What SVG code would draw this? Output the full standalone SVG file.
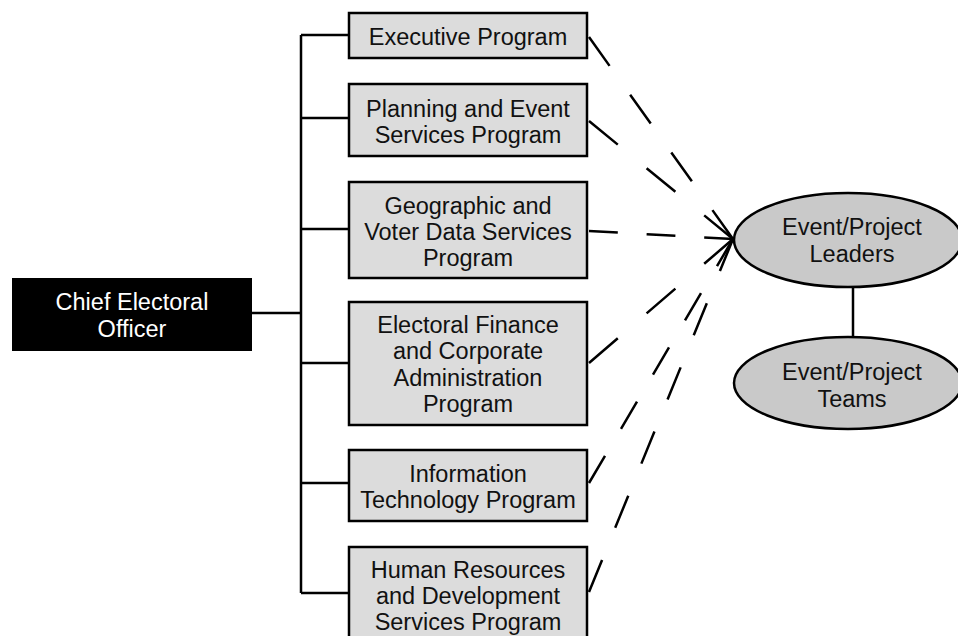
<svg xmlns="http://www.w3.org/2000/svg" width="958" height="636" viewBox="0 0 958 636">
<style>
.box{fill:#dcdcdc;stroke:#000;stroke-width:2.5}
.ell{fill:#c9c9c9;stroke:#000;stroke-width:2.5}
.t{font-family:"Liberation Sans",Arial,sans-serif;font-size:23.5px;fill:#111;text-anchor:middle}
.w{fill:#fff}
.ln{stroke:#000;stroke-width:2.5;fill:none}
.dash{stroke:#000;stroke-width:2.5;fill:none;stroke-dasharray:1 1}
</style>
<rect width="958" height="636" fill="#fff"/>
<g id="connectors">
<path class="ln" d="M252 313H301M301 35V593M301 35H349M301 118H349M301 229H349M301 363H349M301 483H349M301 593H349"/>
<path class="ln" d="M853 287V337"/>
<path class="dash" pathLength="7" d="M733 239L589 37"/>
<path class="dash" pathLength="5" d="M733 239L589 121"/>
<path class="dash" pathLength="5" d="M733 239L589 231"/>
<path class="dash" pathLength="5" d="M733 239L589 363"/>
<path class="dash" pathLength="9" d="M733 239L589 483"/>
<path class="dash" pathLength="11" d="M733 239L589 592"/>
</g>
<g id="ceo">
<rect x="12" y="278" width="240" height="73" fill="#000"/>
<text class="t w" x="132" y="310">Chief Electoral</text>
<text class="t w" x="132" y="337">Officer</text>
</g>
<g id="executive">
<rect class="box" x="349" y="13" width="238" height="45"/>
<text class="t" x="468" y="45">Executive Program</text>
</g>
<g id="planning">
<rect class="box" x="349" y="84" width="238" height="72"/>
<text class="t" x="468" y="116.5">Planning and Event</text>
<text class="t" x="468" y="143">Services Program</text>
</g>
<g id="geographic">
<rect class="box" x="349" y="182" width="238" height="96"/>
<text class="t" x="468" y="214">Geographic and</text>
<text class="t" x="468" y="240">Voter Data Services</text>
<text class="t" x="468" y="266">Program</text>
</g>
<g id="electoral">
<rect class="box" x="349" y="302" width="238" height="123"/>
<text class="t" x="468" y="333">Electoral Finance</text>
<text class="t" x="468" y="359">and Corporate</text>
<text class="t" x="468" y="385.5">Administration</text>
<text class="t" x="468" y="412">Program</text>
</g>
<g id="it">
<rect class="box" x="349" y="450" width="238" height="71"/>
<text class="t" x="468" y="481.5">Information</text>
<text class="t" x="468" y="508">Technology Program</text>
</g>
<g id="hr">
<rect class="box" x="349" y="547" width="238" height="96"/>
<text class="t" x="468" y="577.5">Human Resources</text>
<text class="t" x="468" y="603.5">and Development</text>
<text class="t" x="468" y="629.5">Services Program</text>
</g>
<g id="leaders">
<ellipse class="ell" cx="848" cy="240" rx="114" ry="47"/>
<text class="t" x="852" y="235">Event/Project</text>
<text class="t" x="852" y="262">Leaders</text>
</g>
<g id="teams">
<ellipse class="ell" cx="848" cy="383" rx="114" ry="46"/>
<text class="t" x="852" y="380">Event/Project</text>
<text class="t" x="852" y="407">Teams</text>
</g>
</svg>
